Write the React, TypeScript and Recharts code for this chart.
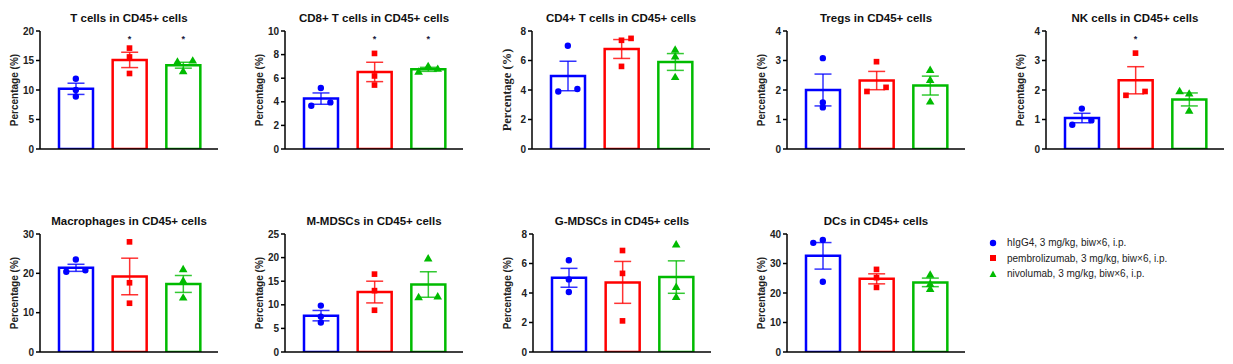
import {
  ComposedChart,
  Bar,
  Cell,
  ErrorBar,
  Scatter,
  XAxis,
  YAxis,
  ZAxis,
} from "recharts";

const groups = ["hIgG4", "pembrolizumab", "nivolumab"];
const legendLabels = [
  "hIgG4, 3 mg/kg, biw×6, i.p.",
  "pembrolizumab, 3 mg/kg, biw×6, i.p.",
  "nivolumab, 3 mg/kg, biw×6, i.p.",
];
const colors = ["#0000ff", "#ff0000", "#00bb00"];
const shapes = ["circle", "square", "triangle"] as const;

// T cells
const tCellsMean = [10.2, 15.1, 14.2];
const tCellsSem = [0.95, 1.3, 0.5];
const tCellsPoints = [[11.9, 10.0, 8.9], [17.1, 15.6, 12.8], [14.9, 14.7, 13.1]];
const tCellsJitter = [[0, 0, 0], [0, 0, 0], [1, -0.6, 0]];
const tCellsSig = [false, true, true];

// CD8+ T cells
const cd8Mean = [4.27, 6.53, 6.75];
const cd8Sem = [0.48, 0.82, 0.17];
const cd8Points = [[5.17, 3.67, 3.95], [8.1, 6.19, 5.42], [6.98, 6.5, 6.75]];
const cd8Jitter = [[0, -1, 1], [0, 0, 0], [0, -1, 1]];
const cd8Sig = [false, true, true];

// CD4+ T cells
const cd4Mean = [4.95, 6.78, 5.9];
const cd4Sem = [1.0, 0.64, 0.57];
const cd4Points = [[7.0, 3.9, 4.07], [7.37, 7.5, 5.6], [6.69, 6.24, 4.84]];
const cd4Jitter = [[0, -1, 1], [0, 1, 0], [0, 0, 0]];
const cd4Sig = [false, false, false];

// Tregs
const tregMean = [2.0, 2.32, 2.15];
const tregSem = [0.54, 0.31, 0.32];
const tregPoints = [[3.08, 1.58, 1.41], [2.96, 1.95, 2.09], [2.66, 2.32, 1.59]];
const tregJitter = [[0, 0, 0], [0, -1, 1], [0, 0, 0]];
const tregSig = [false, false, false];

// NK cells
const nkMean = [1.05, 2.33, 1.68];
const nkSem = [0.16, 0.46, 0.22];
const nkPoints = [[1.37, 0.82, 0.97], [3.25, 1.82, 1.95], [1.94, 1.86, 1.28]];
const nkJitter = [[0, -1, 1], [0, -1, 1], [-1, 0, 0]];
const nkSig = [false, true, false];

// Macrophages
const macMean = [21.4, 19.2, 17.3];
const macSem = [0.9, 4.65, 2.15];
const macPoints = [[23.5, 20.4, 20.8], [28.0, 17.6, 12.4], [20.9, 18.0, 13.7]];
const macJitter = [[0, -1, 1], [0, 0, 0], [0, 0, 0]];
const macSig = [false, false, false];

// M-MDSCs
const mmdscMean = [7.7, 12.7, 14.3];
const mmdscSem = [1.1, 2.3, 2.7];
const mmdscPoints = [[9.83, 7.5, 6.25], [16.5, 13.0, 8.85], [19.7, 11.5, 11.66]];
const mmdscJitter = [[0, 0, 0], [0, 0, 0], [0, -1, 1]];
const mmdscSig = [false, false, false];

// G-MDSCs
const gmdscMean = [5.03, 4.72, 5.08];
const gmdscSem = [0.64, 1.42, 1.1];
const gmdscPoints = [[6.22, 4.92, 4.07], [6.88, 5.33, 2.11], [7.26, 4.38, 3.69]];
const gmdscJitter = [[0, 0, 0], [0, 0, 0], [0, 0, 0]];
const gmdscSig = [false, false, false];

// DCs
const dcMean = [32.6, 24.8, 23.6];
const dcSem = [4.5, 1.7, 1.45];
const dcPoints = [[37.0, 38.0, 23.8], [28.0, 25.2, 21.9], [26.0, 22.9, 21.2]];
const dcJitter = [[-1, 0, 0], [0, 0, 0], [0, 0, 0]];
const dcSig = [false, false, false];

const panels = [
  { title: "T cells in CD45+ cells", mean: tCellsMean, sem: tCellsSem, points: tCellsPoints, jitter: tCellsJitter, sig: tCellsSig, ticks: [0, 5, 10, 15, 20], axisX: 40, row: 0 },
  { title: "CD8+ T cells in CD45+ cells", mean: cd8Mean, sem: cd8Sem, points: cd8Points, jitter: cd8Jitter, sig: cd8Sig, ticks: [0, 2, 4, 6, 8, 10], axisX: 285, row: 0 },
  { title: "CD4+ T cells in CD45+ cells", mean: cd4Mean, sem: cd4Sem, points: cd4Points, jitter: cd4Jitter, sig: cd4Sig, ticks: [0, 2, 4, 6, 8], axisX: 532, row: 0, serifLabel: true },
  { title: "Tregs in CD45+ cells", mean: tregMean, sem: tregSem, points: tregPoints, jitter: tregJitter, sig: tregSig, ticks: [0, 1, 2, 3, 4], axisX: 787, row: 0 },
  { title: "NK cells in CD45+ cells", mean: nkMean, sem: nkSem, points: nkPoints, jitter: nkJitter, sig: nkSig, ticks: [0, 1, 2, 3, 4], axisX: 1046, row: 0 },
  { title: "Macrophages in CD45+ cells", mean: macMean, sem: macSem, points: macPoints, jitter: macJitter, sig: macSig, ticks: [0, 10, 20, 30], axisX: 40, row: 1 },
  { title: "M-MDSCs in CD45+ cells", mean: mmdscMean, sem: mmdscSem, points: mmdscPoints, jitter: mmdscJitter, sig: mmdscSig, ticks: [0, 5, 10, 15, 20, 25], axisX: 285, row: 1 },
  { title: "G-MDSCs in CD45+ cells", mean: gmdscMean, sem: gmdscSem, points: gmdscPoints, jitter: gmdscJitter, sig: gmdscSig, ticks: [0, 2, 4, 6, 8], axisX: 533, row: 1 },
  { title: "DCs in CD45+ cells", mean: dcMean, sem: dcSem, points: dcPoints, jitter: dcJitter, sig: dcSig, ticks: [0, 10, 20, 30, 40], axisX: 787, row: 1 },
];

const FONT = "Arial, 'Liberation Sans', sans-serif";
const ROW_TOP = [31, 234];
const PLOT_W = 178;
const PLOT_H = 118;
const Y_W = 38;
const M_TOP = 10;
const M_BOTTOM = 6;
const X_H = 6;
const JITTER_STEP = 0.178;

type PanelProps = (typeof panels)[number];

function Panel({ p }: { p: PanelProps }) {
  const top = ROW_TOP[p.row];
  const max = p.ticks[p.ticks.length - 1];
  const barData = groups.map((name, i) => ({
    name,
    mean: p.mean[i],
    e0: i === 0 ? p.sem[i] : undefined,
    e1: i === 1 ? p.sem[i] : undefined,
    e2: i === 2 ? p.sem[i] : undefined,
  }));
  const pointSets = p.points.map((vals, g) =>
    vals.map((v, k) => ({ x: g + p.jitter[g][k] * JITTER_STEP, y: v }))
  );
  const sigData = p.sig
    .map((s, i) => (s ? { x: i, y: max * 0.94 } : null))
    .filter(Boolean) as { x: number; y: number }[];

  return (
    <>
      <div
        style={{
          position: "absolute",
          left: p.axisX,
          top: top - 20,
          width: PLOT_W,
          height: 14,
          lineHeight: "14px",
          textAlign: "center",
          fontFamily: FONT,
          fontWeight: "bold",
          fontSize: 11.5,
          color: "#111",
          whiteSpace: "nowrap",
        }}
      >
        {p.title}
      </div>
      <div
        style={{
          position: "absolute",
          left: p.axisX - 25,
          top: top + PLOT_H / 2,
          transform: "translate(-50%, -50%) rotate(-90deg)",
          whiteSpace: "nowrap",
          lineHeight: "12px",
          fontSize: p.serifLabel ? 12.5 : 10,
          fontWeight: "bold",
          fontFamily: p.serifLabel ? "'Liberation Serif', 'Times New Roman', serif" : FONT,
          color: "#222",
        }}
      >
        Percentage (%)
      </div>
      <div style={{ position: "absolute", left: p.axisX - Y_W - 2, top: top - M_TOP }}>
        <ComposedChart
          width={Y_W + 2 + PLOT_W + 10}
          height={PLOT_H + M_TOP + X_H + M_BOTTOM}
          data={barData}
          margin={{ top: M_TOP, right: 10, left: 2, bottom: M_BOTTOM }}
        >
          <XAxis
            dataKey="name"
            tick={false}
            tickLine={false}
            height={X_H}
            axisLine={{ stroke: "#000", strokeWidth: 1.5 }}
            padding={{ left: 9, right: 8 }}
          />
          <XAxis
            xAxisId="num"
            dataKey="x"
            type="number"
            domain={[-0.5, 2.5]}
            hide
            padding={{ left: 9, right: 8 }}
          />
          <YAxis
            width={Y_W}
            domain={[0, max]}
            ticks={p.ticks}
            interval={0}
            allowDataOverflow
            tickSize={4}
            axisLine={{ stroke: "#000", strokeWidth: 1.5 }}
            tickLine={{ stroke: "#000", strokeWidth: 1.5 }}
            tick={{ fill: "#222", fontSize: 10, fontWeight: "bold", fontFamily: FONT }}
          />
          <ZAxis range={[32, 32]} />
          <Bar dataKey="mean" barSize={34} isAnimationActive={false}>
            {barData.map((_, i) => (
              <Cell key={i} fill="#fff" stroke={colors[i]} strokeWidth={2.5} />
            ))}
            {[0, 1, 2].map((i) => (
              <ErrorBar
                key={i}
                dataKey={`e${i}`}
                direction="y"
                width={8.5}
                stroke={colors[i]}
                strokeWidth={1.5}
                strokeOpacity={0.8}
              />
            ))}
          </Bar>
          {pointSets.map((pts, g) => (
            <Scatter
              key={g}
              xAxisId="num"
              data={pts}
              dataKey="y"
              fill={colors[g]}
              shape={shapes[g]}
              isAnimationActive={false}
            />
          ))}
          <Scatter
            xAxisId="num"
            data={sigData}
            dataKey="y"
            isAnimationActive={false}
            shape={(s: any) => (
              <text
                x={s.cx}
                y={s.cy + 4}
                textAnchor="middle"
                fontSize={9}
                fontWeight="bold"
                fontFamily={FONT}
                fill="#1a1a40"
              >
                *
              </text>
            )}
          />
        </ComposedChart>
      </div>
    </>
  );
}

function Marker({ i }: { i: number }) {
  const c = colors[i];
  return (
    <svg width={10} height={10} style={{ display: "block" }}>
      {i === 0 && <circle cx={5} cy={5} r={3.2} fill={c} />}
      {i === 1 && <rect x={2} y={2} width={6} height={6} fill={c} />}
      {i === 2 && <polygon points="5,1.5 8.5,8 1.5,8" fill={c} />}
    </svg>
  );
}

export default function App() {
  return (
    <div
      style={{
        position: "absolute",
        left: 0,
        top: 0,
        width: 1233,
        height: 364,
        background: "#fff",
      }}
    >
      {panels.map((p) => (
        <Panel key={p.title} p={p} />
      ))}
      <div style={{ position: "absolute", left: 988, top: 235, fontFamily: FONT, fontSize: 10, color: "#222" }}>
        {legendLabels.map((label, i) => (
          <div key={label} style={{ display: "flex", alignItems: "center", height: 15.5 }}>
            <Marker i={i} />
            <span style={{ marginLeft: 9, whiteSpace: "nowrap" }}>{label}</span>
          </div>
        ))}
      </div>
    </div>
  );
}
